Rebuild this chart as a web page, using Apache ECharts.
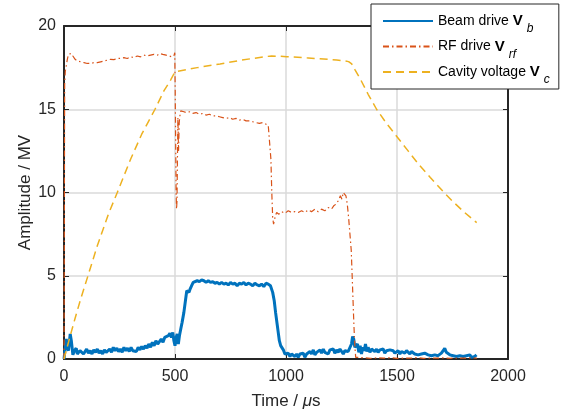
<!DOCTYPE html>
<html>
<head>
<meta charset="utf-8">
<script src="https://cdn.jsdelivr.net/npm/echarts@6/dist/echarts.min.js"></script>
<style>
html,body{margin:0;padding:0;background:#fff;}
#c{width:563px;height:412px;}
</style>
</head>
<body>
<div id="c"></div>
<script>
// ---- data (time in µs, amplitude in MV) ----
const xTicks = [0, 500, 1000, 1500, 2000];
const yTicks = [0, 5, 10, 15, 20];

const beamT = [0,5,10,15,20,25,28,33,40,47,55,60,66,72,80,88,95,102,110,118,126,134,142,150,158,166,174,182,190,198,206,214,222,230,238,246,254,262,270,278,286,294,302,310,318,326,334,342,350,358,366,374,382,390,398,406,414,422,430,438,446,454,462,470,477,484,490,495,500,505,510,515,520,526,532,540,548,553,558,563,568,575,582,590,600,610,620,630,640,650,660,670,680,690,700,710,720,730,740,750,760,770,780,790,800,810,820,830,840,850,860,870,880,890,900,910,920,930,940,947,953,960,965,970,976,982,988,995,1003,1010,1018,1025,1033,1040,1048,1055,1063,1070,1078,1085,1093,1100,1108,1115,1123,1130,1138,1145,1153,1160,1168,1175,1183,1190,1198,1205,1213,1220,1228,1235,1243,1250,1258,1265,1272,1280,1288,1295,1300,1305,1310,1316,1322,1328,1334,1340,1346,1352,1358,1364,1370,1378,1385,1393,1400,1408,1415,1423,1430,1438,1445,1453,1460,1468,1475,1483,1490,1498,1505,1513,1520,1528,1535,1543,1550,1558,1565,1573,1580,1588,1595,1603,1610,1618,1625,1633,1640,1648,1655,1663,1670,1678,1685,1693,1700,1708,1715,1722,1730,1738,1745,1753,1760,1768,1775,1783,1790,1798,1805,1813,1820,1828,1835,1843,1850,1858];
const beamV = [0,0.6,1.2,0.7,0.5,0.4,1.5,1.1,0.25,0.5,0.65,0.3,0.2,0.5,0.55,0.3,0.45,0.6,0.35,0.5,0.3,0.55,0.4,0.6,0.35,0.5,0.3,0.55,0.4,0.5,0.6,0.4,0.7,0.5,0.65,0.45,0.6,0.4,0.7,0.5,0.65,0.45,0.7,0.5,0.6,0.45,0.7,0.55,0.75,0.6,0.8,0.65,0.9,0.7,1.0,0.8,1.1,0.9,1.0,1.2,1.0,1.3,1.2,1.4,1.55,1.3,1.6,1.1,0.8,1.3,1.5,0.9,1.4,1.8,2.2,2.8,3.6,4.1,4.0,4.0,4.2,4.4,4.6,4.6,4.7,4.65,4.75,4.7,4.6,4.7,4.6,4.65,4.55,4.6,4.5,4.6,4.5,4.55,4.45,4.6,4.5,4.55,4.4,4.55,4.5,4.6,4.45,4.55,4.5,4.4,4.55,4.45,4.4,4.5,4.35,4.55,4.5,4.4,4.0,3.5,2.8,2.1,1.6,1.1,0.8,0.7,0.55,0.3,0.2,0.35,0.15,0.3,0.35,0.15,0.3,0.1,0.3,0.25,0.35,0.1,0.3,0.2,0.45,0.3,0.55,0.25,0.4,0.3,0.55,0.35,0.6,0.4,0.5,0.3,0.55,0.45,0.6,0.35,0.55,0.4,0.6,0.5,0.3,0.5,0.55,0.45,0.5,0.9,1.35,1.2,0.7,0.6,0.9,0.4,0.8,0.3,0.7,0.5,0.9,0.45,0.7,0.4,0.6,0.7,0.45,0.6,0.4,0.55,0.45,0.6,0.35,0.5,0.4,0.55,0.45,0.5,0.35,0.45,0.5,0.3,0.45,0.55,0.35,0.5,0.4,0.3,0.45,0.35,0.3,0.4,0.25,0.35,0.3,0.2,0.35,0.3,0.25,0.35,0.2,0.3,0.25,0.35,0.2,0.3,0.35,0.5,0.65,0.4,0.3,0.25,0.3,0.2,0.3,0.15,0.25,0.2,0.3,0.15,0.25,0.2,0.15,0.25,0.1,0.2,0.15,0.25];

const rfT = [0,3,6,10,15,20,27,33,40,50,60,75,90,105,120,135,150,165,180,195,210,225,240,255,270,285,300,315,330,345,360,375,390,405,420,432,445,460,475,485,495,499,501,503,505,507,509,511,513,516,519,522,526,532,540,550,565,580,595,610,625,640,655,670,685,700,715,730,745,760,775,790,805,820,835,850,865,880,895,910,920,928,932,936,940,944,948,952,958,968,980,995,1010,1025,1040,1055,1070,1085,1100,1115,1130,1145,1160,1175,1190,1205,1215,1225,1235,1245,1252,1258,1264,1270,1276,1282,1288,1294,1298,1302,1306,1310,1314,1320,1350,1380,1410,1440,1470,1500,1530,1560,1590,1620,1650,1680,1710,1740,1770,1800,1830,1860];
const rfV = [0,16.5,17.3,17.6,18.0,18.3,18.4,18.35,18.2,18.0,17.9,17.85,17.8,17.75,17.75,17.8,17.8,17.85,17.9,17.95,18.0,17.98,18.05,18.05,18.1,18.05,18.15,18.1,18.2,18.15,18.25,18.2,18.25,18.3,18.25,18.35,18.3,18.25,18.2,18.15,18.2,18.4,16.0,13.0,10.0,9.0,9.5,12.0,14.5,12.5,14.2,14.6,14.9,14.8,14.85,14.8,14.85,14.75,14.8,14.7,14.75,14.65,14.7,14.6,14.6,14.55,14.5,14.45,14.5,14.4,14.45,14.35,14.4,14.3,14.3,14.25,14.2,14.15,14.2,14.1,14.05,14.0,12.0,10.0,8.5,8.1,8.0,8.6,8.8,8.7,8.85,8.75,8.9,8.8,8.85,8.8,8.9,8.8,8.95,8.85,9.0,8.85,9.0,8.9,9.1,9.0,9.2,9.3,9.5,9.8,9.6,10.0,10.1,9.8,9.3,8.5,7.5,6.5,5.0,3.5,2.0,0.8,0.1,0.05,0.08,0.04,0.07,0.05,0.08,0.04,0.06,0.05,0.08,0.04,0.06,0.05,0.07,0.04,0.06,0.05,0.07,0.05];

const cavT = [0,25,50,75,108,150,200,240,300,350,410,450,480,500,600,703,800,900,935,1003,1100,1228,1266,1282,1296,1311,1333,1370,1408,1450,1500,1550,1600,1650,1712,1750,1800,1859];
const cavV = [0,1.25,2.45,3.6,5.0,6.8,8.7,10.0,12.0,13.5,15.0,16.1,16.75,17.25,17.5,17.72,17.95,18.15,18.2,18.16,18.08,17.96,17.9,17.86,17.72,17.36,16.86,15.9,15.0,14.2,13.35,12.5,11.65,10.9,10.0,9.48,8.85,8.19];

const names = ['beam', 'rf', 'cav'];
const legendText = {
  beam: '{n|Beam drive }{b|V}{s|b}',
  rf: '{n|RF drive }{b|V}{s|rf}',
  cav: '{n|Cavity voltage }{b|V}{s|c}'
};

const pairs = (t, v) => t.map((x, i) => [x, v[i]]);

const FONT = 'Liberation Sans';
const AX = '#262626';

const chart = echarts.init(document.getElementById('c'), null, {renderer: 'canvas'});

const baseX = {
  type: 'value', min: 0, max: 2000, interval: 500,
  axisLine: {show: true, onZero: false, lineStyle: {color: AX, width: 2}},
  axisTick: {show: true, inside: true, length: 5, lineStyle: {color: AX, width: 1}},
};
const baseY = {
  type: 'value', min: 0, max: 20, interval: 5,
  axisLine: {show: true, onZero: false, lineStyle: {color: AX, width: 2}},
  axisTick: {show: true, inside: true, length: 5, lineStyle: {color: AX, width: 1}},
};

chart.setOption({
  animation: false,
  backgroundColor: '#fff',
  grid: {left: 64, right: 55, top: 26, bottom: 53, containLabel: false, outerBoundsMode: 'none'},
  xAxis: [
    Object.assign({}, baseX, {
      position: 'bottom',
      name: '{t|Time / }{m|μ}{t|s}',
      nameLocation: 'middle', nameGap: 34,
      nameTextStyle: {rich: {t: {fontFamily: FONT, fontSize: 17, color: AX}, m: {fontFamily: FONT, fontSize: 17, fontStyle: 'italic', color: AX}}},
      axisLabel: {show: true, margin: 10, color: AX, fontFamily: FONT, fontSize: 16,
        formatter: v => xTicks.includes(v) ? String(v) : ''},
      splitLine: {show: true, lineStyle: {color: '#dadada', width: 1.5}}
    }),
    Object.assign({}, baseX, {
      position: 'top', axisLabel: {show: false}, splitLine: {show: false}
    })
  ],
  yAxis: [
    Object.assign({}, baseY, {
      position: 'left',
      name: 'Amplitude / MV',
      nameLocation: 'middle', nameGap: 30, nameRotate: 90, nameMoveOverlap: false,
      nameTextStyle: {fontFamily: FONT, fontSize: 17, color: AX},
      axisLabel: {show: true, margin: 8, color: AX, fontFamily: FONT, fontSize: 16,
        formatter: v => yTicks.includes(v) ? String(v) : ''},
      splitLine: {show: true, lineStyle: {color: '#dadada', width: 1.5}}
    }),
    Object.assign({}, baseY, {
      position: 'right', axisLabel: {show: false}, splitLine: {show: false}
    })
  ],
  legend: {
    show: true,
    data: names,
    orient: 'vertical',
    left: 371, top: 4,
    padding: [9.5, 9, 3, 11],
    itemWidth: 50, itemHeight: 14, itemGap: 4,
    backgroundColor: '#fff',
    borderColor: '#262626', borderWidth: 1, borderRadius: 0,
    formatter: n => legendText[n],
    textStyle: {
      rich: {
        n: {fontFamily: FONT, fontSize: 14, lineHeight: 17, color: '#000'},
        b: {fontFamily: FONT, fontSize: 15, lineHeight: 17, fontWeight: 'bold', color: '#000'},
        s: {fontFamily: FONT, fontSize: 12, lineHeight: 17, fontStyle: 'italic', color: '#000', padding: [8, 0, -8, 4]}
      }
    },
    itemStyle: {opacity: 0}
  },
  series: [
    {
      name: 'beam', type: 'line', xAxisIndex: 0, yAxisIndex: 0,
      data: pairs(beamT, beamV), showSymbol: false, symbol: 'none',
      lineStyle: {color: '#0072BD', width: 3},
      itemStyle: {color: '#0072BD'}
    },
    {
      name: 'rf', type: 'line', xAxisIndex: 0, yAxisIndex: 0,
      data: pairs(rfT, rfV), showSymbol: false, symbol: 'none',
      lineStyle: {color: '#D95319', width: 1.2, type: [6, 3, 1.5, 3]},
      itemStyle: {color: '#D95319'}
    },
    {
      name: 'cav', type: 'line', xAxisIndex: 0, yAxisIndex: 0,
      data: pairs(cavT, cavV), showSymbol: false, symbol: 'none',
      lineStyle: {color: '#EDB120', width: 1.5, type: [8, 5]},
      itemStyle: {color: '#EDB120'}
    }
  ]
});
</script>
</body>
</html>
